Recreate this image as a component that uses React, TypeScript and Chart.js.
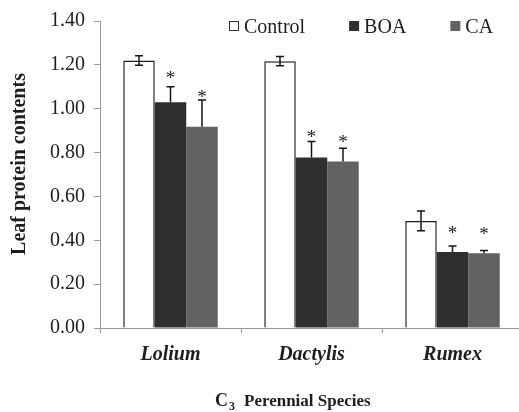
import React, { useEffect, useRef } from 'react';
import { Chart, registerables } from 'chart.js';

Chart.register(...registerables);

const categories = ['Lolium', 'Dactylis', 'Rumex'];
const seriesNames = ['Control', 'BOA', 'CA'];
const controlValues = [1.22, 1.217, 0.488];
const controlErrors = [0.022, 0.021, 0.045];
const boaValues = [1.03, 0.778, 0.347];
const boaErrors = [0.07, 0.072, 0.027];
const caValues = [0.918, 0.759, 0.341];
const caErrors = [0.122, 0.061, 0.012];
// significance markers (*) level, in axis units
const boaStars = [1.16, 0.888, 0.45];
const caStars = [1.07, 0.867, 0.447];
const yTickLabels = ['0.00', '0.20', '0.40', '0.60', '0.80', '1.00', '1.20', '1.40'];
const yTitle = 'Leaf protein contents';
const xTitleMain = 'C';
const xTitleSub = '3';
const xTitleRest = 'Perennial Species';

const FONT = "'Liberation Serif', 'Times New Roman', serif";
const colors = ['#ffffff', '#302e2f', '#626263'];
const TEXT = '#1e1e1e';

const errorBarPlugin = {
  id: 'errorBars',
  afterDatasetsDraw(chart: any) {
    const ctx = chart.ctx;
    const y = chart.scales.y;
    chart.data.datasets.forEach((ds: any, di: number) => {
      const meta = chart.getDatasetMeta(di);
      meta.data.forEach((bar: any, i: number) => {
        const v = ds.data[i];
        const e = ds.errors[i];
        const top = y.getPixelForValue(v + e);
        const bot = y.getPixelForValue(v - e);
        const base = y.getPixelForValue(v);
        ctx.save();
        ctx.strokeStyle = '#151515';
        ctx.lineWidth = 1.5;
        ctx.beginPath();
        ctx.moveTo(bar.x, top);
        ctx.lineTo(bar.x, di === 0 ? bot : base);
        ctx.moveTo(bar.x - 4, top);
        ctx.lineTo(bar.x + 4, top);
        if (di === 0) {
          ctx.moveTo(bar.x - 4, bot);
          ctx.lineTo(bar.x + 4, bot);
        }
        ctx.stroke();
        if (ds.stars) {
          ctx.fillStyle = TEXT;
          ctx.font = `19px ${FONT}`;
          ctx.textAlign = 'center';
          ctx.textBaseline = 'alphabetic';
          ctx.fillText('*', bar.x, y.getPixelForValue(ds.stars[i]) + 10);
        }
        ctx.restore();
      });
    });
  },
};

const textPlugin = {
  id: 'customTexts',
  afterDraw(chart: any) {
    const ctx = chart.ctx;
    ctx.save();
    // legend
    ctx.font = `20px ${FONT}`;
    ctx.textBaseline = 'alphabetic';
    ctx.textAlign = 'left';
    let x = 229;
    const boxTop = 21;
    chart.data.datasets.forEach((ds: any) => {
      ctx.fillStyle = ds.backgroundColor;
      ctx.fillRect(x, boxTop, 10, 10);
      if (ds.legendBorder) {
        ctx.strokeStyle = '#333';
        ctx.lineWidth = 1;
        ctx.strokeRect(x + 0.5, boxTop + 0.5, 9, 9);
      }
      ctx.fillStyle = TEXT;
      ctx.fillText(ds.label, x + 15, 33);
      x = x + 15 + ctx.measureText(ds.label).width + 44;
    });

    // x axis title with subscript
    const x0 = 215;
    const by = 406;
    ctx.fillStyle = TEXT;
    ctx.font = `bold 18px ${FONT}`;
    ctx.fillText(xTitleMain, x0, by);
    const wc = ctx.measureText(xTitleMain).width;
    ctx.font = `bold 12px ${FONT}`;
    ctx.fillText(xTitleSub, x0 + wc + 1, by + 4);
    ctx.font = `bold 17px ${FONT}`;
    ctx.fillText(xTitleRest, x0 + 29, by);

    // y axis title
    ctx.translate(20, 164);
    ctx.rotate(-Math.PI / 2);
    ctx.textAlign = 'center';
    ctx.textBaseline = 'middle';
    ctx.font = `bold 20px ${FONT}`;
    ctx.fillText(yTitle, 0, 0);
    ctx.restore();
  },
};

export default function App() {
  const ref = useRef<HTMLCanvasElement | null>(null);

  useEffect(() => {
    if (!ref.current) return;
    const chart = new Chart(ref.current, {
      type: 'bar',
      data: {
        labels: categories,
        datasets: [
          {
            label: seriesNames[0],
            data: controlValues,
            errors: controlErrors,
            backgroundColor: colors[0],
            borderColor: '#1e1e1e',
            borderWidth: 1.5,
            legendBorder: true,
          } as any,
          {
            label: seriesNames[1],
            data: boaValues,
            errors: boaErrors,
            stars: boaStars,
            backgroundColor: colors[1],
            borderWidth: 0,
          } as any,
          {
            label: seriesNames[2],
            data: caValues,
            errors: caErrors,
            stars: caStars,
            backgroundColor: colors[2],
            borderWidth: 0,
          } as any,
        ],
      },
      options: {
        responsive: false,
        animation: false,
        devicePixelRatio: 1,
        layout: { padding: { top: 20, right: 0, bottom: 0, left: 0 } },
        datasets: {
          bar: { categoryPercentage: 0.67, barPercentage: 1.0 },
        },
        plugins: {
          legend: { display: false },
          tooltip: { enabled: false },
        },
        scales: {
          x: {
            offset: true,
            grid: {
              display: true,
              offset: true,
              drawOnChartArea: false,
              drawTicks: true,
              tickLength: 5,
              color: '#9a9a9a',
            },
            border: { color: '#9a9a9a', width: 1 },
            ticks: {
              color: TEXT,
              padding: 10,
              font: { family: FONT, size: 20, weight: 'bold', style: 'italic' },
            },
            title: { display: false },
            afterFit(s: any) {
              s.height = 84;
            },
          },
          y: {
            min: 0,
            max: 1.4,
            ticks: {
              stepSize: 0.2,
              color: TEXT,
              padding: 9,
              font: { family: FONT, size: 20 },
              callback: (_v: any, i: number) => yTickLabels[i],
            },
            grid: {
              drawOnChartArea: false,
              drawTicks: true,
              tickLength: 6,
              color: '#9a9a9a',
            },
            border: { color: '#9a9a9a', width: 1 },
            title: { display: false },
            afterFit(s: any) {
              s.width = 100;
            },
          },
        },
      } as any,
      plugins: [errorBarPlugin, textPlugin],
    });
    return () => chart.destroy();
  }, []);

  return (
    <div
      style={{
        position: 'fixed',
        left: 0,
        top: 0,
        width: 519,
        height: 412,
        overflow: 'hidden',
        background: '#fff',
      }}
    >
      <canvas ref={ref} width={523} height={412} style={{ display: 'block' }} />
    </div>
  );
}
